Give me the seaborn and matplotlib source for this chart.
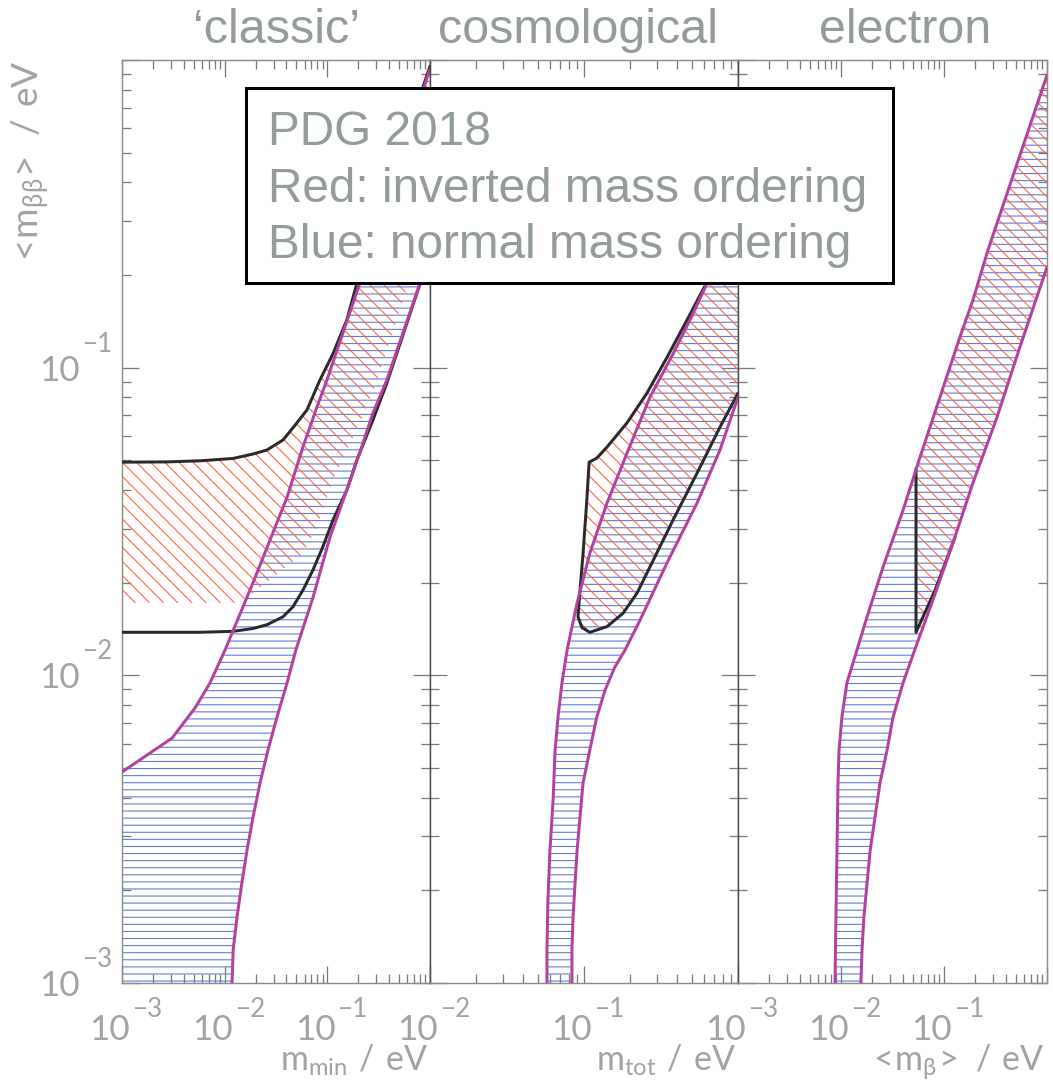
import matplotlib
matplotlib.use("Agg")
import matplotlib.pyplot as plt
import seaborn as sns
from matplotlib.patches import Rectangle
from matplotlib.transforms import blended_transform_factory, offset_copy
from matplotlib.ticker import LogLocator, NullFormatter

# ---------------- data ----------------
titles = ["\u2018classic\u2019", "cosmological", "electron"]
x_labels = [r"$\mathregular{m_{min}\ /\ eV}$", r"$\mathregular{m_{tot}\ /\ eV}$",
            r"$\mathregular{<\!m_{\beta}\!>\ /\ eV}$"]
y_label = r"$\mathregular{<\!m_{\beta\beta}\!>\ /\ eV}$"
legend_lines = ["PDG 2018", "Red: inverted mass ordering", "Blue: normal mass ordering"]
x_ranges = [(1e-3, 1.0), (1e-2, 1.0), (1e-3, 1.0)]
y_range = (1e-3, 1.0)
x_tick_exps = [[-3, -2, -1], [-2, -1], [-3, -2, -1]]
y_tick_exps = [-3, -2, -1]

# panel 1 : 'classic'
p1_no_upper_x = [0.001, 0.00307, 0.00514, 0.00719, 0.0101, 0.0121, 0.0189, 0.0276, 0.0405,
                 0.0578, 0.0792, 0.0991, 0.207, 0.955, 1.0]
p1_no_upper_y = [0.00485, 0.00625, 0.00783, 0.00944, 0.0121, 0.0140, 0.0200, 0.0275, 0.0379,
                 0.0552, 0.0745, 0.0912, 0.188, 0.894, 0.933]
p1_no_lower_x = [0.0118, 0.0121, 0.0132, 0.0147, 0.0165, 0.0189, 0.0221, 0.0264, 0.0323,
                 0.0405, 0.0494, 0.0725, 0.106, 0.177, 0.278, 0.380, 0.798, 1.0]
p1_no_lower_y = [0.001, 0.00128, 0.00164, 0.00211, 0.00270, 0.00346, 0.00447, 0.00571, 0.00731,
                 0.00944, 0.0121, 0.0179, 0.0281, 0.0454, 0.0711, 0.0912, 0.188, 0.236]
p1_io_upper_x = [0.001, 0.00274, 0.00574, 0.0121, 0.0189, 0.0258, 0.0370, 0.0462, 0.0632,
                 0.0847, 0.1135, 0.155, 0.194, 1.0]
p1_io_upper_y = [0.0493, 0.0494, 0.0498, 0.0507, 0.0524, 0.0540, 0.0582, 0.0637, 0.0728,
                 0.0912, 0.111, 0.143, 0.188, 0.955]
p1_io_lower_x = [0.001, 0.00574, 0.0121, 0.0189, 0.0258, 0.0370, 0.0462, 0.0578, 0.0725,
                 0.0906, 0.1135, 0.155, 0.194, 0.278, 0.380, 1.0]
p1_io_lower_y = [0.0138, 0.0138, 0.0139, 0.0142, 0.0146, 0.0155, 0.0167, 0.0189, 0.0220,
                 0.0262, 0.0320, 0.0400, 0.0501, 0.0676, 0.0891, 0.234]
p1_io_fill_lower_x = [0.001, 0.0132, 0.0189, 0.0578, 0.0792, 0.1135, 0.207, 0.290, 1.0]
p1_io_fill_lower_y = [0.0172, 0.0172, 0.0185, 0.0249, 0.0303, 0.0432, 0.0661, 0.0865, 0.308]

# panel 2 : cosmological
p2_no_left_x = [0.0575, 0.0575, 0.0583, 0.0601, 0.0630, 0.0649, 0.0678, 0.0719, 0.0777, 0.0902,
                0.109, 0.141, 0.190, 0.268, 0.379, 0.488, 0.630, 1.0]
p2_no_left_y = [0.001, 0.00128, 0.00186, 0.00270, 0.00394, 0.00571, 0.00731, 0.00944, 0.0121,
                0.0172, 0.0249, 0.0363, 0.0527, 0.0802, 0.111, 0.143, 0.188, 0.299]
p2_no_right_x = [0.0835, 0.0835, 0.0849, 0.0875, 0.0902, 0.0942, 0.0986, 0.109, 0.121, 0.137,
                 0.158, 0.185, 0.231, 0.346, 0.542, 0.764, 1.0]
p2_no_right_y = [0.001, 0.00128, 0.00164, 0.00211, 0.00270, 0.00346, 0.00447, 0.00571, 0.00731,
                 0.00895, 0.0106, 0.0121, 0.0151, 0.0232, 0.0363, 0.0540, 0.0802]
p2_io_x = [1.0, 0.630, 0.467, 0.346, 0.256, 0.190, 0.141, 0.121, 0.108, 0.104, 0.0986, 0.0942,
           0.0914, 0.0970, 0.109, 0.141, 0.179, 0.221, 0.268, 0.379, 0.542, 0.764, 1.0]
p2_io_y = [0.304, 0.190, 0.143, 0.108, 0.0826, 0.0661, 0.0552, 0.0508, 0.0493, 0.0363, 0.0249,
           0.0189, 0.0155, 0.0143, 0.0138, 0.0144, 0.0159, 0.0185, 0.0225, 0.0320, 0.0454,
           0.0641, 0.0826]

# panel 3 : electron
p3_no_upper_x = [0.00875, 0.00893, 0.00914, 0.00935, 0.00957, 0.0102, 0.0114, 0.0143, 0.0179,
                 0.0256, 0.0400, 0.0585, 0.0914, 0.143, 0.191, 0.267, 1.0]
p3_no_upper_y = [0.001, 0.00164, 0.00270, 0.00447, 0.00571, 0.00731, 0.00944, 0.0121, 0.0155,
                 0.0225, 0.0344, 0.0512, 0.0802, 0.126, 0.166, 0.241, 0.894]
p3_no_lower_x = [0.0156, 0.0160, 0.0167, 0.0179, 0.0192, 0.0214, 0.0239, 0.0280, 0.0320, 0.0400,
                 0.0520, 0.0782, 0.122, 0.191, 0.327, 0.547, 1.0]
p3_no_lower_y = [0.001, 0.00128, 0.00164, 0.00211, 0.00270, 0.00346, 0.00447, 0.00571, 0.00731,
                 0.00944, 0.0121, 0.0176, 0.0269, 0.0422, 0.0690, 0.117, 0.212]
p3_io_edge_x = [0.0535, 0.0535, 0.0818, 0.128]
p3_io_edge_y = [0.0470, 0.0138, 0.0189, 0.0281]

# ---------------- style ----------------
DPI = 85
W, H = 1053, 1085
def px(n):
    return n * 72.0 / DPI

sns.set_theme(style="ticks")
plt.rcParams["font.family"] = ["Lato", "DejaVu Sans"]
plt.rcParams["hatch.linewidth"] = px(1.1)
plt.rcParams["axes.linewidth"] = px(1.4)

MAGENTA = "#b4419f"
BLACK = "#2a2a2a"
BLUE = "#5b7ed4"
RED = "#ff6548"
TXT = "#939b9b"
LAB = "#a2a2a2"
OUTER = "#8a8a8a"
INNER = "#4a4a4a"

tick_font = dict(family=["Lato", "DejaVu Sans"], fontweight="normal", color=LAB)

fig = plt.figure(figsize=(W / DPI, H / DPI), dpi=DPI)
fig.patch.set_facecolor("white")

lefts = [122, 430, 738]
widths = [308, 308, 309]
top_px, bot_px = 60, 983
axes = []
for i in range(3):
    ax = fig.add_axes([lefts[i] / W, 1 - bot_px / H, widths[i] / W, (bot_px - top_px) / H])
    ax.set_xscale("log")
    ax.set_yscale("log")
    ax.set_xlim(*x_ranges[i])
    ax.set_ylim(*y_range)
    ax.set_facecolor("white")
    axes.append(ax)


def poly(ax, xs, ys, color, hatch, z):
    ax.fill(xs, ys, facecolor="none", edgecolor=color, hatch=hatch, lw=0, zorder=z)


def line(ax, xs, ys, color, z):
    sns.lineplot(x=xs, y=ys, ax=ax, sort=False, estimator=None, color=color,
                 lw=px(3), zorder=z)


# panel 1
ax = axes[0]
poly(ax, p1_no_upper_x + p1_no_lower_x[::-1] + [0.001],
     p1_no_upper_y + p1_no_lower_y[::-1] + [0.001], BLUE, "--", 1)
poly(ax, p1_io_upper_x + p1_io_fill_lower_x[::-1],
     p1_io_upper_y + p1_io_fill_lower_y[::-1], RED, "\\\\", 1.5)
line(ax, p1_io_upper_x, p1_io_upper_y, BLACK, 3)
line(ax, p1_io_lower_x, p1_io_lower_y, BLACK, 3)
line(ax, p1_no_upper_x, p1_no_upper_y, MAGENTA, 4)
line(ax, p1_no_lower_x, p1_no_lower_y, MAGENTA, 4)

# panel 2
ax = axes[1]
poly(ax, p2_no_left_x + p2_no_right_x[::-1], p2_no_left_y + p2_no_right_y[::-1], BLUE, "--", 1)
poly(ax, p2_io_x, p2_io_y, RED, "\\\\", 1.5)
line(ax, p2_io_x, p2_io_y, BLACK, 3)
line(ax, p2_no_left_x, p2_no_left_y, MAGENTA, 4)
line(ax, p2_no_right_x, p2_no_right_y, MAGENTA, 4)

# panel 3
ax = axes[2]
poly(ax, p3_no_upper_x + p3_no_lower_x[::-1], p3_no_upper_y + p3_no_lower_y[::-1], BLUE, "--", 1)
x_start = p3_io_edge_x[0]
x_join = p3_io_edge_x[-1]
up = [(x, y) for x, y in zip(p3_no_upper_x, p3_no_upper_y) if x > x_start]
lo = [(x, y) for x, y in zip(p3_no_lower_x, p3_no_lower_y) if x > x_join]
red_x = [x_start] + [p[0] for p in up] + [p[0] for p in lo[::-1]] + p3_io_edge_x[::-1]
red_y = [p3_io_edge_y[0]] + [p[1] for p in up] + [p[1] for p in lo[::-1]] + p3_io_edge_y[::-1]
poly(ax, red_x, red_y, RED, "\\\\", 1.5)
line(ax, p3_io_edge_x, p3_io_edge_y, BLACK, 3)
line(ax, p3_no_upper_x, p3_no_upper_y, MAGENTA, 4)
line(ax, p3_no_lower_x, p3_no_lower_y, MAGENTA, 4)

# axes decoration
for i, ax in enumerate(axes):
    ax.xaxis.set_major_locator(LogLocator(base=10, numticks=12))
    ax.xaxis.set_minor_locator(LogLocator(base=10, subs=range(2, 10), numticks=12))
    ax.yaxis.set_major_locator(LogLocator(base=10, numticks=12))
    ax.yaxis.set_minor_locator(LogLocator(base=10, subs=range(2, 10), numticks=12))
    ax.xaxis.set_minor_formatter(NullFormatter())
    ax.yaxis.set_minor_formatter(NullFormatter())
    ax.tick_params(which="both", direction="in", top=True, right=True, bottom=True, left=True,
                   labelbottom=False, labelleft=False, color="#7a7a7a", width=px(1.3))
    ax.tick_params(which="major", length=px(17))
    ax.tick_params(which="minor", length=px(9))
    ax.set_xlabel("")
    ax.set_ylabel("")
    for side in ["top", "bottom"]:
        ax.spines[side].set_color(OUTER)
    ax.spines["left"].set_color(OUTER if i == 0 else INNER)
    ax.spines["right"].set_color(OUTER if i == 2 else INNER)

    base = blended_transform_factory(ax.transData, ax.transAxes)
    for e in x_tick_exps[i]:
        t1 = offset_copy(base, fig=fig, x=px(8), y=px(-57), units="points")
        ax.text(10.0 ** e, 0, "10", transform=t1, ha="right", va="baseline",
                fontsize=px(35), clip_on=False, **tick_font)
        t2 = offset_copy(base, fig=fig, x=px(10), y=px(-34), units="points")
        ax.text(10.0 ** e, 0, "\u2212" + str(-e), transform=t2, ha="left", va="baseline",
                fontsize=px(26), clip_on=False, **tick_font)
    fig.text((lefts[i] + widths[i] - 2) / W, 1 - 1071 / H, x_labels[i], ha="right",
             va="baseline", fontsize=px(34), **tick_font)

ax = axes[0]
baseY = blended_transform_factory(ax.transAxes, ax.transData)
for e in y_tick_exps:
    t1 = offset_copy(baseY, fig=fig, x=px(-42), y=px(-13), units="points")
    ax.text(0, 10.0 ** e, "10", transform=t1, ha="right", va="baseline",
            fontsize=px(35), clip_on=False, **tick_font)
    t2 = offset_copy(baseY, fig=fig, x=px(-40), y=px(16), units="points")
    ax.text(0, 10.0 ** e, "\u2212" + str(-e), transform=t2, ha="left", va="baseline",
            fontsize=px(26), clip_on=False, **tick_font)

fig.text(31 / W, 1 - 60 / H, y_label, rotation=90, ha="center", va="top",
         fontsize=px(37), **tick_font)

# titles
title_centers = [277, 578, 905]
for c, t in zip(title_centers, titles):
    fig.text(c / W, 1 - 43 / H, t, ha="center", va="baseline", fontsize=px(48.5),
             family=["Liberation Sans", "DejaVu Sans"], color=TXT)

# legend box
rect = Rectangle((246 / W, 1 - 283 / H), 647 / W, 195 / H, transform=fig.transFigure,
                 facecolor="white", edgecolor="black", lw=px(3), zorder=10)
fig.add_artist(rect)
for yb, t in zip([145, 202, 258], legend_lines):
    txt = fig.text(268 / W, 1 - yb / H, t, ha="left", va="baseline", fontsize=px(47.8),
                   family=["Liberation Sans", "DejaVu Sans"], color=TXT)
    txt.set_zorder(11)

fig.savefig("out.png", dpi=DPI, facecolor="white")
